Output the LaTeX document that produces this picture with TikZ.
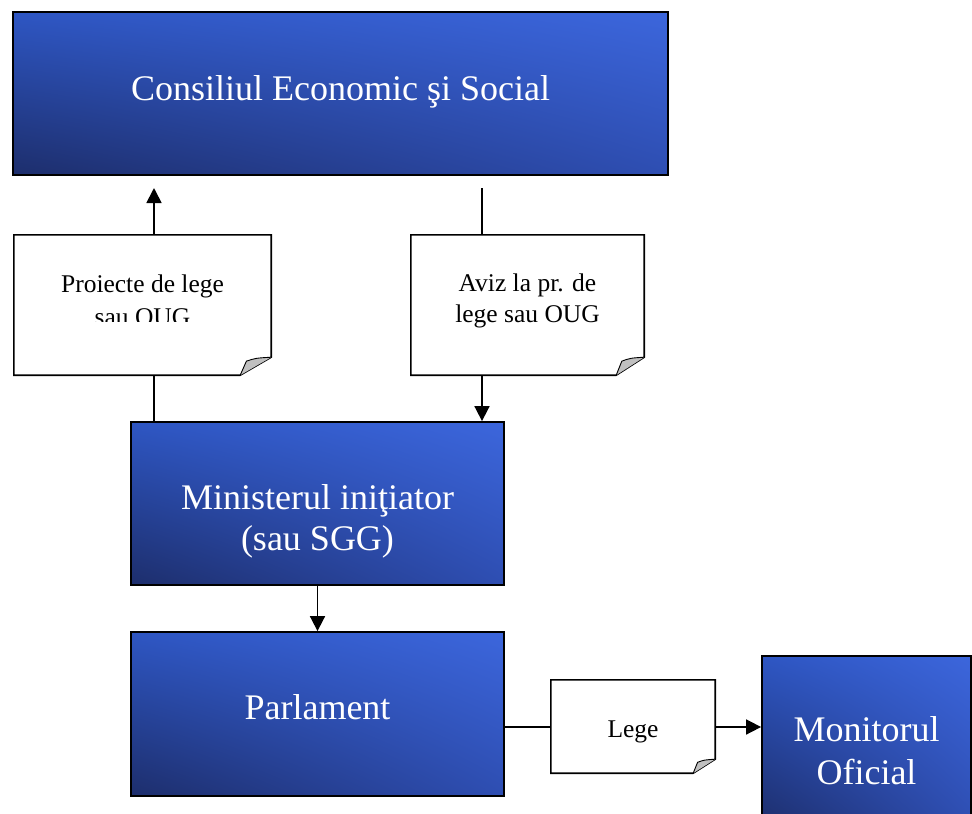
\documentclass[tikz,border=0pt]{standalone}
\usepackage{fontspec}
\setmainfont{Liberation Serif}
\usetikzlibrary{arrows.meta,shadings}
\definecolor{bUR}{RGB}{60,102,220}
\definecolor{bUL}{RGB}{46,86,195}
\definecolor{bLR}{RGB}{46,78,178}
\definecolor{bLL}{RGB}{29,46,108}
\definecolor{foldgray}{RGB}{192,192,192}
\tikzset{
  bluebox/.style={draw=black, line width=1.8pt, inner sep=0pt,
    upper right=bUR, upper left=bUL, lower right=bLR, lower left=bLL},
  docbox/.style={inner sep=0pt},
  docline/.style={draw=black, line width=1.6pt, line join=miter},
  bigtxt/.style={text=white, font=\fontsize{36}{41}\selectfont, anchor=base, inner sep=0pt},
  smalltxt/.style={text=black, font=\fontsize{25.5}{30}\selectfont, anchor=base, inner sep=0pt},
  conn/.style={draw=black, line width=1.7pt},
  arr/.style={conn, -{Triangle[width=15pt,length=15pt]}}
}
\begin{document}
\begin{tikzpicture}[x=1pt,y=-1pt]
\useasboundingbox (0,0) rectangle (972,814);
% blue boxes
\node[bluebox, minimum width=655pt, minimum height=163pt] (ces) at (340.5,93.5) {};
\node[bluebox, minimum width=373pt, minimum height=163pt] (min) at (317.5,503.5) {};
\node[bluebox, minimum width=373pt, minimum height=164pt] (parl) at (317.5,714) {};
\node[bluebox, minimum width=209pt, minimum height=170pt] (mon) at (866.5,741) {};
% document boxes (placeholders)
\node[docbox, minimum width=257pt, minimum height=140pt] (d1) at (142.5,305) {};
\node[docbox, minimum width=233pt, minimum height=140pt] (d2) at (527.5,305) {};
\node[docbox, minimum width=164pt, minimum height=93pt] (d3) at (633,726.5) {};
% document outlines with folded corner
\foreach \d/\fx/\fy in {d1/31/18, d2/28/18, d3/22/14}{
  \draw[docline] (\d.north west) -- (\d.north east) -- ([yshift=\fy pt]\d.south east)
     -- ([xshift=-\fx pt]\d.south east) -- (\d.south west) -- cycle;
  \draw[draw=black, line width=0.9pt, fill=foldgray]
     ([yshift=\fy pt]\d.south east) .. controls ([xshift=-0.5*\fx pt, yshift=0.95*\fy pt]\d.south east)
     .. ([xshift=-0.8*\fx pt, yshift=0.78*\fy pt]\d.south east)
     -- ([xshift=-\fx pt]\d.south east);
}
% texts
\node[bigtxt] (tces) at (340.5,100) {Consiliul Economic şi Social};
\node[bigtxt] (tmin1) at (317.5,509) {Ministerul iniţiator};
\node[bigtxt] (tmin2) at (317.5,550) {(sau SGG)};
\node[bigtxt] (tparl) at (317.5,719) {Parlament};
\node[bigtxt] (tmon1) at (866.5,741) {Monitorul};
\node[bigtxt] (tmon2) at (866.5,784) {Oficial};
\node[smalltxt] (td11) at (142.5,292) {Proiecte de lege};
\begin{scope}
  \clip (0,0) rectangle (972,321.5);
  \node[smalltxt] (td12) at (142.5,325) {sau OUG};
\end{scope}
\node[smalltxt] (td21) at (527.5,291) {Aviz la pr. de};
\node[smalltxt] (td22) at (527.5,322) {lege sau OUG};
\node[smalltxt] (td3) at (633,737) {Lege};
% connectors
\coordinate (cx1) at (154,0);
\coordinate (cx2) at (482,0);
\coordinate (cy) at (0,727);
\coordinate (up1) at (154,188);
\coordinate (up2) at (482,188);
\draw[arr] (d1.north -| cx1) -- (up1);
\draw[conn] (d1.south -| cx1) -- (min.north -| cx1);
\draw[conn] (up2) -- (d2.north -| cx2);
\draw[arr] (d2.south -| cx2) -- (min.north -| cx2);
\draw[arr] (min.south) -- (parl.north);
\draw[conn] (parl.east |- cy) -- (d3.west |- cy);
\draw[arr] (d3.east |- cy) -- (mon.west |- cy);
\end{tikzpicture}
\end{document}
